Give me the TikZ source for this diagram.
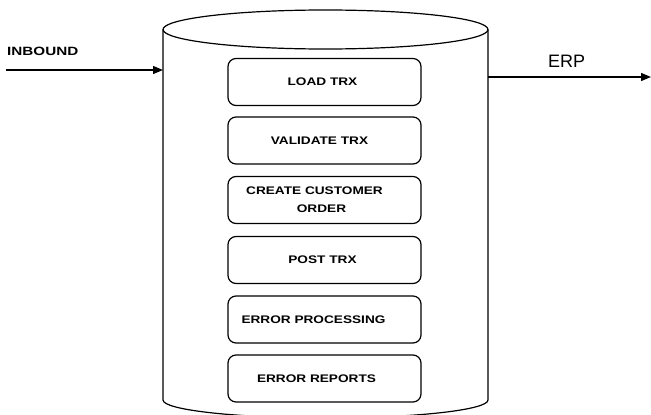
\documentclass[tikz,border=0pt]{standalone}
\usepackage{fontspec}
\usepackage{graphicx}
\setmainfont{Liberation Sans}
\usetikzlibrary{arrows.meta}
\newcommand\wideTxt[1]{\scalebox{1.24}[1]{#1}}
\begin{document}
\begin{tikzpicture}[x=1pt,y=-1pt,
  outline/.style={line width=1.2pt, black},
  procbox/.style={draw, line width=1.2pt, rounded corners=8pt, minimum width=193pt, minimum height=47pt, inner sep=0pt},
  boxtext/.style={inner sep=0pt, font=\fontsize{11}{18}\selectfont\bfseries, align=center},
  flow/.style={line width=1.2pt, -{Triangle[length=10pt,width=8pt]}}]
\useasboundingbox (0,0) rectangle (651,415);
% cylinder
\draw[outline] (163,29.5) -- (163,400) arc[start angle=180, end angle=0, x radius=162.5, y radius=18] -- (488,29.5);
\draw[outline] (325.5,29.5) ellipse[x radius=162.5, y radius=19.5];
\coordinate (cylL) at (163,70);
\coordinate (cylR) at (488,77);
\coordinate (inStart) at (6,70);
\coordinate (erpEnd) at (651,77);
% boxes
\node[procbox] (b1) at (324.5,82) {};
\node[procbox] (b2) at (324.5,140.5) {};
\node[procbox] (b3) at (324.5,200) {};
\node[procbox] (b4) at (324.5,260) {};
\node[procbox] (b5) at (324.5,319.5) {};
\node[procbox] (b6) at (324.5,378.5) {};
\node[boxtext] (t1) at ([xshift=-2pt]b1.center) {\wideTxt{LOAD TRX}};
\node[boxtext] (t2) at ([xshift=-5pt]b2.center) {\wideTxt{VALIDATE TRX}};
\node[boxtext] (t3) at ([xshift=-10pt]b3.center) {\wideTxt{CREATE CUSTOMER}\\\hspace*{14pt}\wideTxt{ORDER}};
\node[boxtext] (t4) at ([xshift=-2pt]b4.center) {\wideTxt{POST TRX}};
\node[boxtext] (t5) at ([xshift=-11pt]b5.center) {\wideTxt{ERROR PROCESSING}};
\node[boxtext] (t6) at ([xshift=-8pt]b6.center) {\wideTxt{ERROR REPORTS}};
% arrows
\draw[flow] (inStart) -- (cylL);
\draw[flow] (cylR) -- (erpEnd);
\node[anchor=base west, inner sep=0pt, font=\fontsize{12}{14}\selectfont\bfseries] (inLbl) at (7,55) {\scalebox{1.27}[1]{INBOUND}};
\node[anchor=base west, inner sep=0pt, font=\fontsize{18}{20}\selectfont] (erpLbl) at (548,67) {ERP};
\end{tikzpicture}
\end{document}
